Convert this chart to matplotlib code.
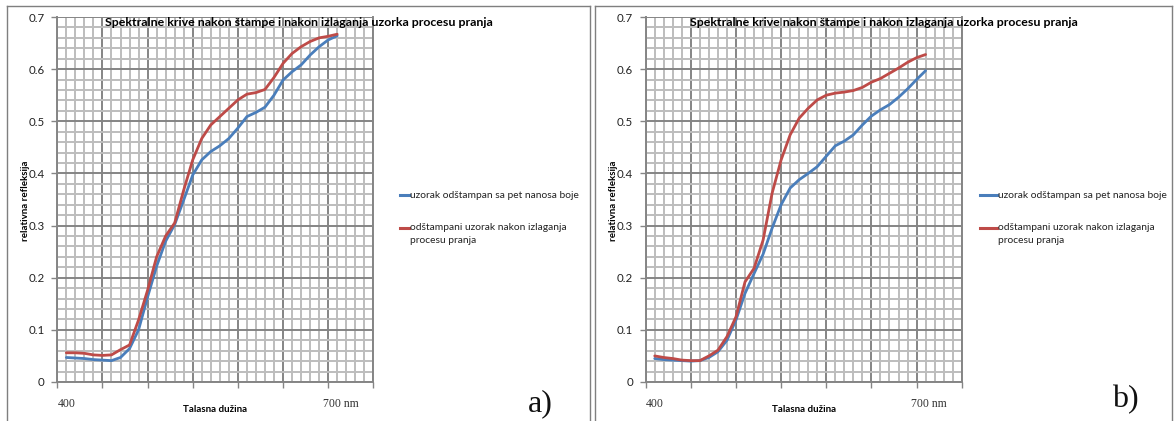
import matplotlib
matplotlib.use("Agg")
import matplotlib.pyplot as plt
import numpy as np
from matplotlib.lines import Line2D

W, H = 1174, 421
wavelength = list(range(400, 701, 10))

blue_a = [0.047, 0.046, 0.045, 0.043, 0.042, 0.041, 0.047, 0.064, 0.100, 0.163,
          0.222, 0.270, 0.302, 0.349, 0.397, 0.426, 0.442, 0.453, 0.467, 0.487,
          0.509, 0.517, 0.527, 0.550, 0.579, 0.595, 0.608, 0.627, 0.643, 0.656, 0.664]
red_a = [0.056, 0.056, 0.055, 0.052, 0.051, 0.052, 0.062, 0.071, 0.119, 0.176,
         0.240, 0.280, 0.305, 0.368, 0.426, 0.467, 0.493, 0.509, 0.525, 0.541,
         0.552, 0.555, 0.561, 0.584, 0.611, 0.630, 0.643, 0.653, 0.660, 0.663, 0.667]

blue_b = [0.045, 0.043, 0.042, 0.041, 0.040, 0.041, 0.047, 0.058, 0.080, 0.119,
          0.170, 0.208, 0.245, 0.295, 0.340, 0.372, 0.388, 0.400, 0.413, 0.433,
          0.453, 0.462, 0.474, 0.493, 0.510, 0.522, 0.532, 0.546, 0.562, 0.580, 0.597]
red_b = [0.050, 0.047, 0.045, 0.042, 0.041, 0.041, 0.050, 0.061, 0.087, 0.125,
         0.192, 0.218, 0.272, 0.362, 0.426, 0.474, 0.506, 0.525, 0.541, 0.550,
         0.554, 0.556, 0.559, 0.565, 0.575, 0.582, 0.592, 0.602, 0.613, 0.622, 0.628]

title = "Spektralne krive nakon štampe i nakon izlaganja uzorka procesu pranja"
ylabel = "relativna refleksija"
xlabel = "Talasna dužina"
series_labels = ["uzorak odštampan sa pet nanosa boje",
                 "odštampani uzorak nakon izlaganja\nprocesu pranja"]
yticks = [0, 0.1, 0.2, 0.3, 0.4, 0.5, 0.6, 0.7]
ytick_labels = ["0", "0.1", "0.2", "0.3", "0.4", "0.5", "0.6", "0.7"]
panel_letters = ["a)", "b)"]

BLUE = "#4a7ebb"
RED = "#be4b48"
FONT = "Lato"

fig = plt.figure(figsize=(W / 100, H / 100), dpi=100)


def fx(px):
    return px / W


def fy(py):
    return 1 - py / H


def panel(left_px, box_left, box_right, blue, red, letter, letter_xy, leg_x0, leg_x1):
    # panel border
    fig.add_artist(Line2D([fx(box_left), fx(box_right)], [fy(6), fy(6)], color="#7f7f7f", lw=1.0))
    fig.add_artist(Line2D([fx(box_left), fx(box_left)], [fy(6), fy(H + 5)], color="#7f7f7f", lw=1.0))
    fig.add_artist(Line2D([fx(box_right), fx(box_right)], [fy(6), fy(H + 5)], color="#7f7f7f", lw=1.0))

    ax = fig.add_axes([fx(left_px), fy(382), 316 / W, 365 / H])
    ax.set_xlim(390, 740)
    ax.set_ylim(0, 0.7)
    ax.set_xticks(np.arange(390, 741, 50))
    ax.set_xticks(np.arange(390, 741, 10), minor=True)
    ax.set_yticks(yticks)
    ax.set_yticks(np.arange(0, 0.7001, 0.02), minor=True)
    ax.set_yticklabels(ytick_labels, fontsize=8.3, family=FONT, color="#222222")
    ax.set_xticklabels([])
    ax.grid(which="minor", color="#bdbdbd", lw=1.4)
    ax.grid(which="major", color="#858585", lw=1.4)
    ax.set_axisbelow(True)
    ax.tick_params(which="minor", length=0)
    ax.tick_params(which="major", length=4, color="#858585", width=1, pad=5)
    ax.spines["top"].set_visible(False)
    for s in ["left", "bottom", "right"]:
        ax.spines[s].set_color("#858585")
        ax.spines[s].set_linewidth(1.4)

    ax.plot(wavelength, blue, color=BLUE, lw=2.0, solid_joinstyle="round",
            solid_capstyle="round", label=series_labels[0])
    ax.plot(wavelength, red, color=RED, lw=2.0, solid_joinstyle="round",
            solid_capstyle="round", label=series_labels[1])

    ax.text(400, -0.043, "400", ha="center", va="center", fontsize=8.5,
            family="Liberation Serif", color="#333333")
    ax.text(684, -0.043, "700 nm", ha="left", va="center", fontsize=8.5,
            family="Liberation Serif", color="#333333")

    center_title = (box_left + box_right) / 2
    fig.text(fx(center_title), fy(23), title, ha="center", va="center",
             fontsize=8.9, fontweight="bold", family=FONT)
    fig.text(fx(left_px + 158), fy(410), xlabel, ha="center", va="center",
             fontsize=7, fontweight="bold", family=FONT)
    fig.text(fx(left_px - 32), fy(201), ylabel, ha="center", va="center",
             rotation=90, fontsize=7, fontweight="bold", family=FONT)

    # legend (drawn manually so the swatch aligns with the first text line)
    for color, label, yy in [(BLUE, series_labels[0], 195), (RED, series_labels[1], 228)]:
        fig.add_artist(Line2D([fx(leg_x0), fx(leg_x1)], [fy(yy), fy(yy)], color=color, lw=2.2))
        for k, ln in enumerate(label.split("\n")):
            fig.text(fx(leg_x1 + 1), fy(yy + 12.5 * k), ln, ha="left", va="center",
                     fontsize=7.35, family=FONT, color="#222222")

    fig.text(fx(letter_xy[0]), fy(letter_xy[1]), letter, ha="center", va="center",
             fontsize=23, family="Liberation Serif", color="#111111")
    return ax


panel(57.3, 7, 590, blue_a, red_a, panel_letters[0], (540, 404), 400, 409)
panel(645.7, 595, 1172, blue_b, red_b, panel_letters[1], (1125, 400), 980, 997)

fig.savefig("out.png", dpi=100)
